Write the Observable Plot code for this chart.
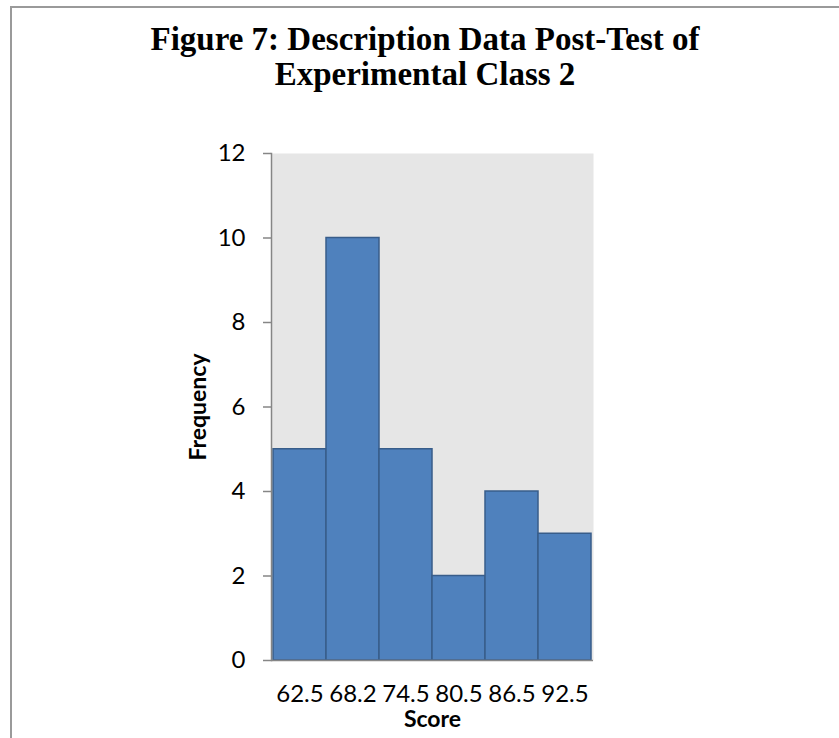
<!DOCTYPE html>
<html>
<head>
<meta charset="utf-8">
<script src="https://cdn.jsdelivr.net/npm/d3@7"></script>
<script src="https://cdn.jsdelivr.net/npm/@observablehq/plot@0.6"></script>
<style>
  body { margin: 0; background: #fff; }
  #frame { position: absolute; left: 10px; top: 6px; width: 900px; height: 800px;
           border-left: 2px solid #9a9a9a; border-top: 2px solid #9a9a9a; }
  #title { position: absolute; left: 0; top: 22px; width: 850px; text-align: center;
           font-family: "Liberation Serif", "Times New Roman", serif; font-weight: bold;
           font-size: 33px; line-height: 35px; color: #000; }
  #chart { position: absolute; left: 0; top: 130px; }
  #chart svg text { font-size: 24px; font-family: Lato, sans-serif; }
  #chart svg g[aria-label="y-axis label"] text,
  #chart svg g[aria-label="x-axis label"] text { font-weight: bold; font-size: 23px; }
</style>
</head>
<body>
<div id="frame"></div>
<div id="title">Figure 7: Description Data Post-Test of<br>Experimental Class 2</div>
<div id="chart"></div>
<script>
const scores = ["62.5", "68.2", "74.5", "80.5", "86.5", "92.5"];
const frequencies = [5, 10, 5, 2, 4, 3];
const yTicks = [0, 2, 4, 6, 8, 10, 12];

const data = scores.map((s, i) => ({score: s, freq: frequencies[i]}));

const chart = Plot.plot({
  width: 839,
  height: 608,
  marginTop: 23,
  marginBottom: 78,
  marginLeft: 271,
  marginRight: 246,
  style: {fontFamily: "Lato, sans-serif", color: "#000", background: "transparent"},
  x: {type: "band", domain: scores, padding: 0, axis: null},
  y: {domain: [0, 12], axis: null},
  marks: [
    Plot.frame({fill: "#e6e6e6", stroke: null}),
    Plot.barY(data, {x: "score", y: "freq", fill: "#4f81bd", stroke: "#385d8a", strokeWidth: 1.5}),
    Plot.ruleY([0], {stroke: "#868686", strokeWidth: 1.5}),
    Plot.frame({anchor: "left", stroke: "#868686", strokeWidth: 1.5}),
    Plot.axisY({ticks: yTicks, tickSize: 8, tickPadding: 18, stroke: "#868686", strokeWidth: 1.5,
                fill: "#000", label: "Frequency", labelArrow: "none", labelAnchor: "center", labelOffset: 82}),
    Plot.axisX({tickSize: 0, tickPadding: 24, fill: "#000",
                label: "Score", labelArrow: "none", labelAnchor: "center", labelOffset: 66})
  ]
});
document.getElementById("chart").appendChild(chart);
</script>
</body>
</html>
